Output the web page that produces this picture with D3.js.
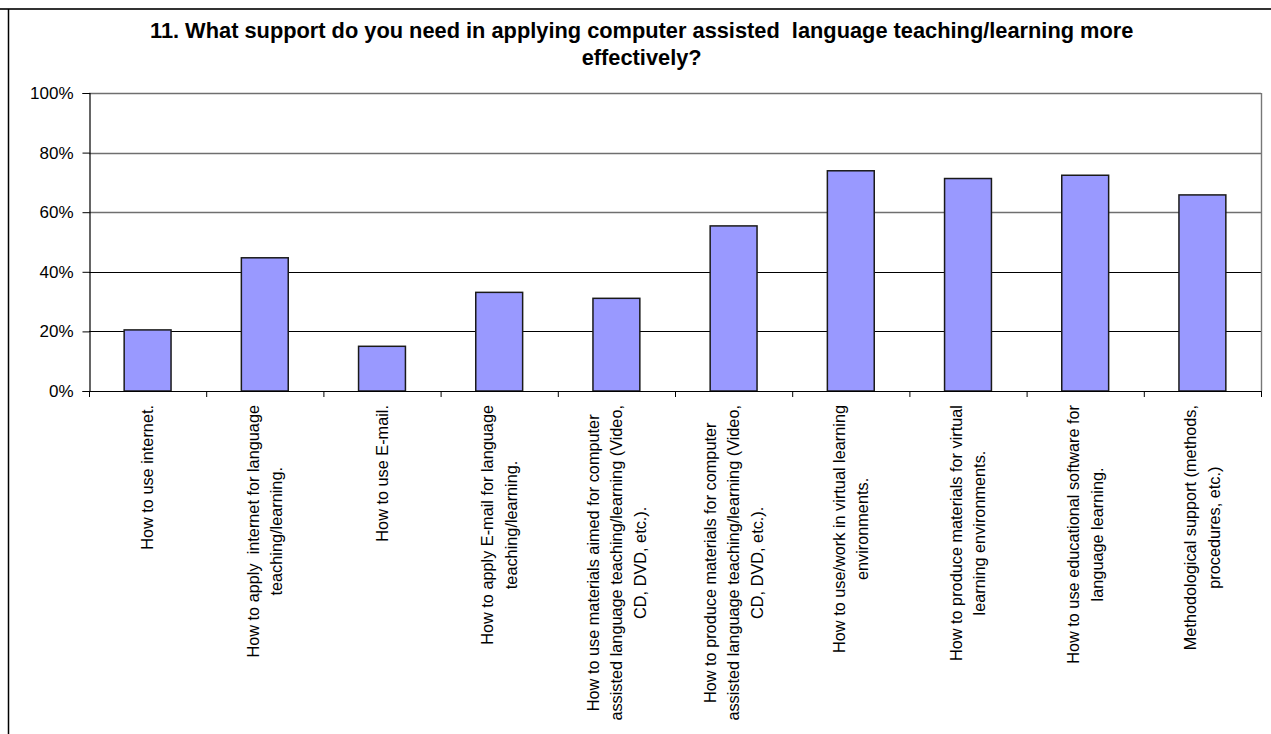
<!DOCTYPE html>
<html>
<head>
<meta charset="utf-8">
<script src="https://cdn.jsdelivr.net/npm/d3@7"></script>
<style>
  html, body { margin: 0; padding: 0; background: #fff; }
  svg { display: block; }
  text { font-family: "Liberation Sans", Arial, sans-serif; fill: #000; }
</style>
</head>
<body>
<svg id="chart" width="1271" height="734"></svg>
<script>
// Survey question 11: share of respondents asking for each kind of support
const titleLines = [
  "11. What support do you need in applying computer assisted\u00a0 language teaching/learning more",
  "effectively?"
];

// Category labels, one entry per bar, already split into their wrapped lines
const categories = [
  ["How to use internet."],
  ["How to apply\u00a0 internet for language", "teaching/learning."],
  ["How to use E-mail."],
  ["How to apply E-mail for language", "teaching/learning."],
  ["How to use materials aimed for computer", "assisted language teaching/learning (Video,", "CD, DVD, etc.)."],
  ["How to produce materials for computer", "assisted language teaching/learning (Video,", "CD, DVD, etc.)."],
  ["How to use/work in virtual learning", "environments."],
  ["How to produce materials for virtual", "learning environments."],
  ["How to use educational software for", "language learning."],
  ["Methodological support (methods,", "procedures, etc.)"]
];

// Share of respondents (0..1)
const values = [0.205, 0.447, 0.150, 0.331, 0.311, 0.554, 0.739, 0.713, 0.724, 0.658];

// Value axis ticks
const yTicks = [0, 0.2, 0.4, 0.6, 0.8, 1.0];

const svg = d3.select("#chart");

// Outer chart frame (top and left edges)
svg.append("line").attr("x1", 0).attr("x2", 1271).attr("y1", 9).attr("y2", 9)
  .attr("stroke", "#333").attr("stroke-width", 2);
svg.append("line").attr("x1", 8.5).attr("x2", 8.5).attr("y1", 9).attr("y2", 734)
  .attr("stroke", "#000").attr("stroke-width", 1.5);

// Plot area
const plot = { left: 89, right: 1261, top: 93, bottom: 391 };

const x = d3.scaleBand()
  .domain(d3.range(categories.length))
  .range([plot.left, plot.right])
  .paddingInner(0)
  .paddingOuter(0);

const y = d3.scaleLinear()
  .domain([0, 1])
  .range([plot.bottom, plot.top]);

// Horizontal gridlines
svg.append("g").selectAll("line")
  .data(yTicks.filter(d => d > 0))
  .join("line")
  .attr("x1", plot.left).attr("x2", plot.right)
  .attr("y1", d => Math.round(y(d)) + 0.5).attr("y2", d => Math.round(y(d)) + 0.5)
  .attr("stroke", d => d >= 0.6 ? "#6f6f6f" : "#000")
  .attr("stroke-width", d => d >= 0.6 ? 1.4 : 1);

// Right edge of plot area
svg.append("line")
  .attr("x1", plot.right + 0.5).attr("x2", plot.right + 0.5)
  .attr("y1", y(1)).attr("y2", y(0))
  .attr("stroke", "#777").attr("stroke-width", 1.4);

// Bars
const barW = x.bandwidth() * 0.4;
svg.append("g").selectAll("rect")
  .data(values)
  .join("rect")
  .attr("x", (d, i) => x(i) + (x.bandwidth() - barW) / 2)
  .attr("y", d => y(d))
  .attr("width", barW)
  .attr("height", d => y(0) - y(d))
  .attr("fill", "#9999ff")
  .attr("stroke", "#1a1a1a")
  .attr("stroke-width", 1.5);

// Value axis
const yAxis = svg.append("g")
  .attr("transform", `translate(${plot.left + 0.5},0)`)
  .call(d3.axisLeft(y)
    .tickValues(yTicks)
    .tickFormat(d3.format(".0%"))
    .tickSize(7)
    .tickPadding(9));
yAxis.select(".domain").attr("stroke", "#000").attr("stroke-width", 1.2);
yAxis.selectAll(".tick line").attr("stroke", "#000");
yAxis.selectAll(".tick text")
  .style("font-family", '"Liberation Sans", Arial, sans-serif')
  .style("font-size", "17px")
  .attr("fill", "#000");

// Category axis line and tick marks at band boundaries
const xAxisG = svg.append("g");
xAxisG.append("line")
  .attr("x1", plot.left).attr("x2", plot.right + 1)
  .attr("y1", plot.bottom + 0.5).attr("y2", plot.bottom + 0.5)
  .attr("stroke", "#000").attr("stroke-width", 1.2);
xAxisG.selectAll("line.tick")
  .data(d3.range(categories.length + 1))
  .join("line")
  .attr("class", "tick")
  .attr("x1", i => x.range()[0] + i * x.step() + 0.5)
  .attr("x2", i => x.range()[0] + i * x.step() + 0.5)
  .attr("y1", plot.bottom)
  .attr("y2", plot.bottom + 6)
  .attr("stroke", "#000");

// Rotated, wrapped category labels; lines centred on each other,
// the longest line ending just below the axis
const labelTop = 405;
const lineGap = 23.5;
const labelSize = 16.3;
const labels = svg.append("g");
categories.forEach((lines, i) => {
  const cx = x(i) + x.bandwidth() / 2;
  const g = labels.append("g");
  const texts = lines.map(t => g.append("text")
    .style("font-size", labelSize + "px")
    .attr("text-anchor", "middle")
    .text(t));
  const maxLen = d3.max(texts, t => t.node().getComputedTextLength());
  const n = lines.length;
  texts.forEach((t, k) => {
    // baseline offset so the block of lines is centred on the band
    const off = (k - (n - 1) / 2) * lineGap + labelSize * 0.35;
    const px = cx + off;
    const py = labelTop + maxLen / 2;
    t.attr("transform", `translate(${px},${py}) rotate(-90)`);
  });
});

// Title
svg.append("g").selectAll("text")
  .data(titleLines)
  .join("text")
  .attr("x", 641.7)
  .attr("y", (d, i) => 38 + i * 27)
  .attr("text-anchor", "middle")
  .style("font-size", "21.8px")
  .style("font-weight", "bold")
  .text(d => d);
</script>
</body>
</html>
